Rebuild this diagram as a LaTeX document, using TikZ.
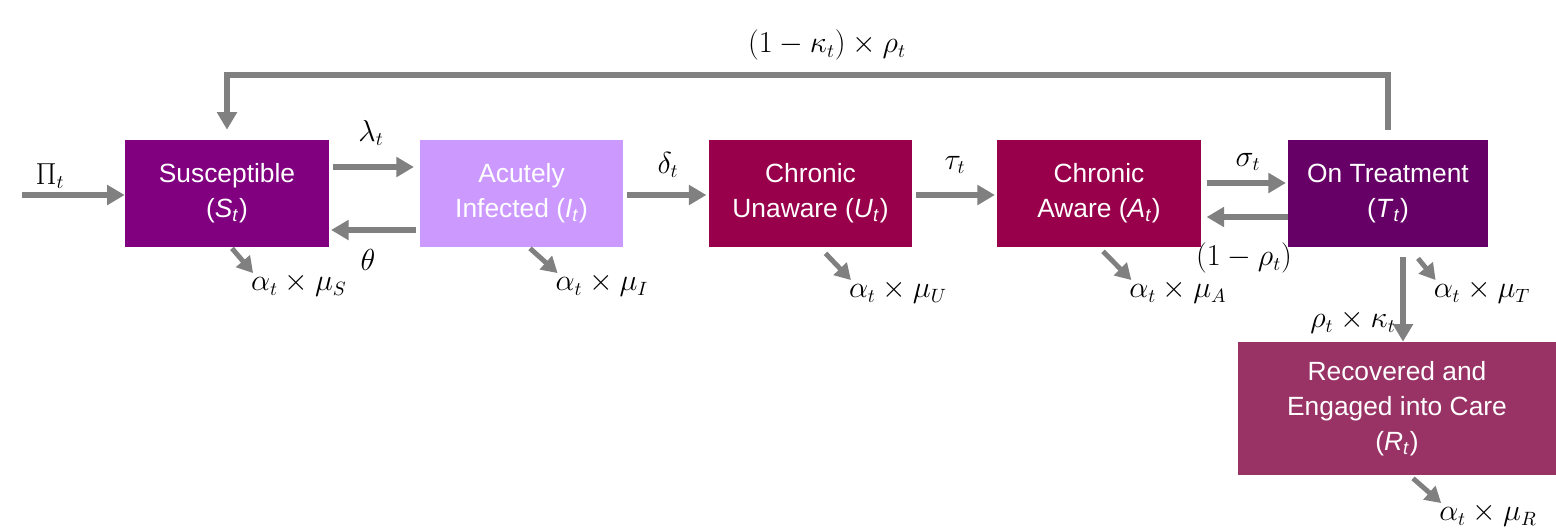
\documentclass[tikz,border=0pt]{standalone}
\usepackage{fontspec}
\setmainfont{Liberation Sans}
\usetikzlibrary{arrows.meta,calc}

\definecolor{arrowgray}{RGB}{128,128,128}
\definecolor{suscol}{RGB}{128,0,128}
\definecolor{acutecol}{RGB}{204,153,255}
\definecolor{chroncol}{RGB}{153,0,76}
\definecolor{treatcol}{RGB}{102,0,102}
\definecolor{reccol}{RGB}{153,51,102}

\tikzset{
    compartment/.style={minimum width=4.08cm, minimum height=2.14cm, inner sep=0pt,
        text=white, align=center, font=\fontsize{15}{20}\selectfont},
    flow/.style={draw=arrowgray, line width=3.4pt, -{Triangle[length=10pt,width=11pt]}},
    death/.style={draw=arrowgray, line width=2.8pt, -{Triangle[length=9pt,width=10pt]}},
    rate/.style={font=\fontsize{16}{19}\selectfont, inner sep=1pt}
}

\begin{document}
\begin{tikzpicture}[x=0.02cm, y=-0.02cm]
    \useasboundingbox (0,0) rectangle (1556,529);

    % compartments
    \node[compartment, fill=suscol] (S) at (227,193.5) {Susceptible\\(\textit{S}\textsubscript{\textit{t}})};
    \node[compartment, fill=acutecol] (I) at (521.5,193.5) {Acutely\\Infected (\textit{I}\textsubscript{\textit{t}})};
    \node[compartment, fill=chroncol] (U) at (810.5,193.5) {Chronic\\Unaware (\textit{U}\textsubscript{\textit{t}})};
    \node[compartment, fill=chroncol] (A) at (1099,193.5) {Chronic\\Aware (\textit{A}\textsubscript{\textit{t}})};
    \node[compartment, fill=treatcol, minimum width=4cm] (T) at (1388,193.5) {On Treatment\\(\textit{T}\textsubscript{\textit{t}})};
    \node[compartment, fill=reccol, minimum width=6.36cm, minimum height=2.66cm] (R) at (1397,408.5)
        {Recovered and\\Engaged into Care\\(\textit{R}\textsubscript{\textit{t}})};

    % inflow
    \coordinate (in) at (22,195);
    \draw[flow] (in) -- (S.west |- in);
    \node[rate] (pi) at (50,176) {$\Pi_t$};

    % flows between compartments
    \draw[flow, shorten <=2pt, shorten >=3pt] (S.east |- 0,167) -- (I.west |- 0,167);
    \node[rate] (lam) at (371,133) {$\lambda_t$};
    \draw[flow, shorten <=2pt, shorten >=1pt] (I.west |- 0,230) -- (S.east |- 0,230);
    \node[rate] (th) at (368,260) {$\theta$};
    \draw[flow, shorten <=2pt, shorten >=1pt] (I.east |- 0,195) -- (U.west |- 0,195);
    \node[rate] (del) at (668,165) {$\delta_t$};
    \draw[flow, shorten <=2pt, shorten >=1pt] (U.east |- 0,195) -- (A.west |- 0,195);
    \node[rate] (tau) at (955,165) {$\tau_t$};
    \draw[flow, shorten <=3pt, shorten >=1pt] (A.east |- 0,183) -- (T.west |- 0,183);
    \node[rate] (sig) at (1248,162) {$\sigma_t$};
    \draw[flow, shorten >=3pt] (T.west |- 0,217) -- (A.east |- 0,217);
    \node[rate] (omr) at (1244,258) {$\left(1-\rho_t\right)$};

    % return loop to susceptible
    \coordinate (loop) at (0,75);
    \draw[flow] ([yshift=0.2cm]T.north) |- (loop -| S.north) -- ([yshift=0.2cm]S.north);
    \node[rate] (back) at (827,45) {$\left(1-\kappa_t\right)\times\rho_t$};

    % treatment to recovered
    \draw[flow] ($(T.south)+(15,10)$) -- ($(T.south |- R.north)+(15,0)$);
    \node[rate] (rk) at (1353,322) {$\rho_t\times\kappa_t$};

    % mortality
    \foreach \b/\dx/\dy/\lx/\ly in {S/5/1/299/285, I/8.5/1/602/285, U/15/6/898/292,
        A/4/4/1178/292, T/30/11/1482/292, R/16/3/1488/515} {
        \node[rate] (m\b) at (\lx,\ly) {$\alpha_t\times\mu_\b$};
        \draw[death] ($(\b.south)+(\dx,\dy)$) -- ($(m\b.north west)+(4,2)$);
    }
\end{tikzpicture}
\end{document}
